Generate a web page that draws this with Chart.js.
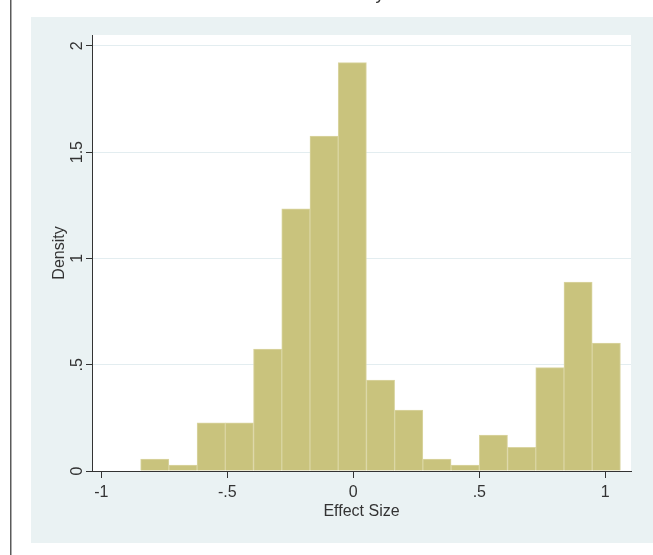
<!DOCTYPE html>
<html>
<head>
<meta charset="utf-8">
<script src="https://cdn.jsdelivr.net/npm/chart.js@4.4.1/dist/chart.umd.min.js"></script>
<style>
  html, body { margin: 0; padding: 0; background: #fff; overflow: hidden; }
  #wrap { position: absolute; left: 0; top: -40px; width: 653px; height: 595px; }
</style>
</head>
<body>
<div id="wrap"><canvas id="hist"></canvas></div>
<script>
// bin midpoints (effect size) and density heights
const binCenters = [-0.788, -0.676, -0.564, -0.452, -0.340, -0.228, -0.116, -0.004,
  0.108, 0.220, 0.332, 0.444, 0.556, 0.668, 0.780, 0.892, 1.004];
const densities = [0.056, 0.028, 0.227, 0.227, 0.574, 1.233, 1.576, 1.921,
  0.428, 0.287, 0.056, 0.028, 0.169, 0.111, 0.486, 0.889, 0.602];

const xTicks = [-1, -0.5, 0, 0.5, 1];
const xTickLabels = ['-1', '-.5', '0', '.5', '1'];
const yTicks = [0, 0.5, 1, 1.5, 2];
const yTickLabels = ['0', '.5', '1', '1.5', '2'];

const FONT = "'Liberation Sans Narrow', 'Arial Narrow', 'Liberation Sans', Arial, sans-serif";
const INK = '#333';

// outer panel, the border line on the left, white plot region
const backdrop = {
  id: 'backdrop',
  beforeDraw(chart) {
    const ctx = chart.ctx;
    const a = chart.chartArea;
    ctx.save();
    ctx.fillStyle = '#EAF2F3';
    ctx.fillRect(31, 57, 622, 526);
    ctx.fillStyle = '#5a5a5a';
    ctx.fillRect(10, 0, 1.5, 595);
    ctx.fillStyle = '#fff';
    ctx.fillRect(a.left, a.top, a.right - a.left, a.bottom - a.top);
    ctx.restore();
  }
};

new Chart(document.getElementById('hist').getContext('2d'), {
  type: 'bar',
  data: {
    datasets: [{
      data: binCenters.map((x, i) => ({ x, y: densities[i] })),
      backgroundColor: '#C9C37D',
      borderColor: '#DAD5A2',
      borderWidth: 1,
      barPercentage: 1,
      categoryPercentage: 1
    }]
  },
  options: {
    responsive: true,
    maintainAspectRatio: false,
    animation: false,
    layout: { padding: { left: 0, right: 22, top: 0, bottom: 0 } },
    plugins: {
      legend: { display: false },
      tooltip: { enabled: false },
      title: {
        display: true,
        text: 'Study',
        fullSize: false,
        color: INK,
        font: { family: FONT, size: 18, weight: 'normal' },
        padding: { top: 23, bottom: 30.4 }
      }
    },
    scales: {
      x: {
        type: 'linear',
        min: -1.037,
        max: 1.102,
        offset: false,
        afterFit: s => { s.height = 84; },
        afterBuildTicks: s => { s.ticks = xTicks.map(v => ({ value: v })); },
        grid: { offset: false, drawOnChartArea: false, tickLength: 7, tickColor: INK },
        border: { color: INK, width: 1 },
        ticks: {
          color: INK,
          padding: 5,
          maxRotation: 0,
          font: { family: FONT, size: 16 },
          callback: (v, i) => xTickLabels[i]
        },
        title: {
          display: true,
          text: 'Effect Size',
          color: INK,
          font: { family: FONT, size: 16 },
          padding: { top: 0, bottom: 33.6 }
        }
      },
      y: {
        min: 0,
        max: 2.051,
        afterFit: s => { s.width = 92; },
        afterBuildTicks: s => { s.ticks = yTicks.map(v => ({ value: v })); },
        grid: { color: '#E3EDF0', tickLength: 6, tickColor: INK },
        border: { color: INK, width: 1 },
        ticks: {
          color: INK,
          padding: -3,
          minRotation: 90,
          maxRotation: 90,
          crossAlign: 'center',
          font: { family: FONT, size: 16 },
          callback: (v, i) => yTickLabels[i]
        },
        title: {
          display: true,
          text: 'Density',
          color: INK,
          font: { family: FONT, size: 16 },
          padding: { top: 49.5, bottom: 0 }
        }
      }
    }
  },
  plugins: [backdrop]
});
</script>
</body>
</html>
